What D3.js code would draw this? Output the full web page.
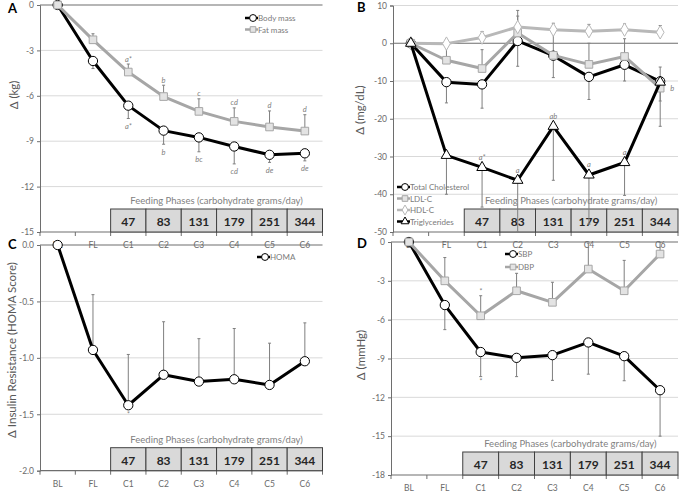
<!DOCTYPE html>
<html>
<head>
<meta charset="utf-8">
<script src="https://cdn.jsdelivr.net/npm/d3@7"></script>
<style>
  body { margin: 0; background: #fff; }
  text { font-family: Lato, "Open Sans", sans-serif; }
</style>
</head>
<body>
<script>
var width = 689;
var height = 497;

var categories = ["BL", "FL", "C1", "C2", "C3", "C4", "C5", "C6"];
var feedingPhases = ["C1", "C2", "C3", "C4", "C5", "C6"];
var carbGrams = [47, 83, 131, 179, 251, 344];

// panel A - kg
var bodyMass    = [0, -3.7, -6.65, -8.3, -8.75, -9.35, -9.9, -9.8];
var bodyMassErr = [0, 0.5, 0.85, 0.9, 0.95, 1.15, 0.5, 0.5];
var bodyMassSig = ["", "", "a*", "b", "bc", "cd", "de", "de"];
var fatMass     = [0, -2.3, -4.43, -6.05, -7.03, -7.69, -8.06, -8.33];
var fatMassErr  = [0, 0.4, 0.53, 0.75, 0.83, 0.89, 1.06, 1.08];
var fatMassSig  = ["", "", "a*", "b", "c", "cd", "d", "d"];

// panel B - mg/dL
var totalChol    = [0, -10.3, -10.9, 0.6, -3.3, -8.9, -5.7, -10.1];
var totalCholErr = [0, 5.5, 6.3, 6.7, 5.8, 6.0, 4.3, 11.9];
var ldl          = [0, -4.5, -6.7, 2.7, -3.2, -5.6, -3.5, -11.9];
var ldlErr       = [0, 4.0, 5.0, 4.5, 6.0, 5.6, 4.7, 5.6];
var ldlSig       = ["", "", "", "", "", "", "", "b"];
var hdl          = [0, -0.1, 1.5, 4.3, 3.6, 3.2, 3.6, 2.9];
var hdlErr       = [0, 1.0, 1.6, 4.4, 1.7, 1.8, 1.5, 1.8];
var tg           = [0, -29.7, -32.9, -36.3, -22, -34.9, -31.6, -10.3];
var tgErr        = [0, 10.3, 10.5, 13.7, 14.3, 13, 8.7, 5];
var tgSig        = ["", "", "a*", "a", "ab", "a", "a", ""];

// panel C - HOMA
var homa    = [0, -0.93, -1.42, -1.15, -1.21, -1.19, -1.24, -1.03];
var homaErr = [0, 0.49, 0.45, 0.47, 0.38, 0.45, 0.37, 0.34];
var homaSig = ["", "", "*", "", "", "", "", ""];

// panel D - mmHg
var sbp    = [0, -4.87, -8.5, -8.95, -8.74, -7.76, -8.82, -11.45];
var sbpErr = [0, 1.9, 1.9, 1.45, 1.95, 2.45, 1.9, 3.55];
var sbpSig = ["", "", "*", "", "", "", "", ""];
var dbp    = [0, -3.0, -5.7, -3.77, -4.66, -2.09, -3.77, -0.93];
var dbpErr = [0, 1.8, 1.55, 1.35, 1.55, 2.0, 2.35, 0.9];
var dbpSig = ["", "", "*", "", "", "", "", ""];

var svg = d3.select("body").append("svg")
    .attr("width", width).attr("height", height);

var black = {line: "#000", fill: "#fff", stroke: "#000"};
var gray = {line: "#a6a6a6", fill: "#e3e3e3", stroke: "#a6a6a6"};
var lightGray = {line: "#b8b8b8", fill: "#fff", stroke: "#b8b8b8"};

var panels = [
  {
    letter: "A", lx: 8, ly: 13,
    left: 40, right: 322.5, top: 5, bottom: 232,
    domain: [-15, 0], ticks: [0, -3, -6, -9, -12, -15], fmt: function(d) { return String(d); },
    title: "\u0394 (kg)", titleX: 13, titleY: 95, labelY: 245,
    legend: {x: 245, y: [18, 29.5]},
    series: [
      {name: "Body mass", values: bodyMass, err: bodyMassErr, dir: -1, sig: bodyMassSig, sigRef: "err", sigDy: 8, col: black, shape: d3.symbolCircle, size: 68},
      {name: "Fat mass", values: fatMass, err: fatMassErr, dir: 1, sig: fatMassSig, sigRef: "err", sigDy: -5, col: gray, shape: d3.symbolSquare, size: 58}
    ]
  },
  {
    letter: "B", lx: 357, ly: 12,
    left: 393, right: 678, top: 5.5, bottom: 232,
    domain: [-50, 10], ticks: [10, 0, -10, -20, -30, -40, -50], fmt: function(d) { return String(d); },
    title: "\u0394 (mg/dL)", titleX: 359, titleY: 110, labelY: 245,
    legend: {x: 397, y: [187, 198.5, 210, 221.5]},
    series: [
      {name: "Total Cholesterol", values: totalChol, err: totalCholErr, dir: -1, col: black, shape: d3.symbolCircle, size: 68},
      {name: "LDL-C", values: ldl, err: ldlErr, dir: 1, sig: ldlSig, sigRef: "point", sigDx: 12, sigDy: 0, col: gray, shape: d3.symbolSquare, size: 58},
      {name: "HDL-C", values: hdl, err: hdlErr, dir: 1, col: lightGray, shape: d3.symbolDiamond, size: 52},
      {name: "Triglycerides", values: tg, err: tgErr, dir: -1, sig: tgSig, sigRef: "point", sigDy: -10, col: black, shape: d3.symbolTriangle, size: 48}
    ]
  },
  {
    letter: "C", lx: 8, ly: 249,
    left: 40, right: 322.5, top: 245, bottom: 470.7,
    domain: [-2, 0], ticks: [0, -0.5, -1, -1.5, -2], fmt: function(d) { return d.toFixed(1); },
    title: "\u0394 Insulin Resistance (HOMA Score)", titleX: 11, titleY: 350, labelY: 484,
    legend: {x: 257, y: [257]},
    series: [
      {name: "HOMA", values: homa, err: homaErr, dir: 1, sig: homaSig, sigRef: "point", sigDy: 9, col: black, shape: d3.symbolCircle, size: 68}
    ]
  },
  {
    letter: "D", lx: 357, ly: 248,
    left: 391, right: 678, top: 242, bottom: 475,
    domain: [-18, 0], ticks: [0, -3, -6, -9, -12, -15, -18], fmt: function(d) { return String(d); },
    title: "\u0394 (mmHg)", titleX: 360, titleY: 355, labelY: 488,
    legend: {x: 505, y: [254, 267]},
    series: [
      {name: "SBP", values: sbp, err: sbpErr, dir: -1, sig: sbpSig, sigRef: "err", sigDy: 5, col: black, shape: d3.symbolCircle, size: 68},
      {name: "DBP", values: dbp, err: dbpErr, dir: 1, sig: dbpSig, sigRef: "err", sigDy: -4, col: gray, shape: d3.symbolSquare, size: 58}
    ]
  }
];

panels.forEach(drawPanel);

function drawPanel(p) {
  var g = svg.append("g");
  var x = d3.scaleBand().domain(categories).range([p.left, p.right]);
  var y = d3.scaleLinear().domain(p.domain).range([p.bottom, p.top]);
  var cx = function(c) { return x(c) + x.bandwidth() / 2; };

  // gridlines
  g.selectAll(".grid")
    .data(p.ticks.filter(function(t) { return t != 0 && t != p.domain[0]; }))
    .enter().append("line")
    .attr("x1", p.left).attr("x2", p.right)
    .attr("y1", function(d) { return y(d); })
    .attr("y2", function(d) { return y(d); })
    .attr("stroke", "#d9d9d9");

  // zero line + bottom line
  [0, p.domain[0]].forEach(function(v) {
    g.append("line")
      .attr("x1", p.left).attr("x2", p.right)
      .attr("y1", y(v)).attr("y2", y(v))
      .attr("stroke", "#6e6e6e").attr("stroke-width", 1.2);
  });

  // ticks between categories
  var bounds = categories.map(function(c) { return x(c); }).concat([p.right]);
  g.selectAll(".xt").data(bounds).enter().append("line")
    .attr("x1", function(d) { return d; }).attr("x2", function(d) { return d; })
    .attr("y1", p.bottom).attr("y2", p.bottom + 4)
    .attr("stroke", "#6e6e6e");

  g.selectAll(".xl").data(categories).enter().append("text")
    .attr("x", cx).attr("y", p.labelY)
    .attr("text-anchor", "middle").attr("dominant-baseline", "central")
    .attr("font-size", 8.5).attr("fill", "#6b6b6b")
    .text(function(d) { return d; });

  // y axis
  var yAxis = d3.axisLeft(y).tickValues(p.ticks).tickSize(3).tickPadding(3).tickFormat(p.fmt);
  var ya = g.append("g").attr("transform", "translate(" + p.left + ",0)").call(yAxis);
  ya.select(".domain").attr("stroke", "#6e6e6e");
  ya.selectAll(".tick line").attr("stroke", "#6e6e6e");
  ya.selectAll(".tick text").attr("font-size", 8.5).attr("fill", "#6b6b6b")
    .style("font-family", "Lato, sans-serif");

  g.append("text")
    .attr("transform", "translate(" + p.titleX + "," + p.titleY + ") rotate(-90)")
    .attr("text-anchor", "middle").attr("dominant-baseline", "central")
    .attr("font-size", 11.5).attr("fill", "#595959")
    .text(p.title);

  g.append("text")
    .attr("x", p.lx).attr("y", p.ly)
    .attr("font-size", 13).attr("font-weight", "bold").attr("fill", "#000")
    .text(p.letter);

  // feeding phase table
  var th = 23;
  var ty = p.bottom - th;
  g.selectAll(".cell").data(feedingPhases).enter().append("rect")
    .attr("x", function(d) { return x(d); }).attr("y", ty)
    .attr("width", x.bandwidth()).attr("height", th)
    .attr("fill", "#d9d9d9").attr("stroke", "#404040").attr("stroke-width", 1);
  g.selectAll(".carb").data(carbGrams).enter().append("text")
    .attr("x", function(d, i) { return cx(feedingPhases[i]); })
    .attr("y", ty + th / 2 + 1)
    .attr("text-anchor", "middle").attr("dominant-baseline", "central")
    .attr("font-size", 12).attr("font-weight", "bold").attr("fill", "#262626")
    .text(function(d) { return d; });
  g.append("text")
    .attr("x", (x("C1") + p.right) / 2).attr("y", ty - 8.5)
    .attr("text-anchor", "middle").attr("dominant-baseline", "central")
    .attr("font-size", 9.5).attr("fill", "#7f7f7f")
    .text("Feeding Phases (carbohydrate grams/day)");

  function points(s) {
    return categories.map(function(c, i) {
      return {c: c, v: s.values[i], e: s.err[i], sig: s.sig ? s.sig[i] : ""};
    });
  }

  // error bars
  p.series.forEach(function(s) {
    var pts = points(s).filter(function(d) { return d.e > 0; });
    var eb = g.append("g").attr("stroke", "#7f7f7f").attr("stroke-width", 1);
    eb.selectAll(".bar").data(pts).enter().append("line")
      .attr("x1", function(d) { return cx(d.c); }).attr("x2", function(d) { return cx(d.c); })
      .attr("y1", function(d) { return y(d.v); })
      .attr("y2", function(d) { return y(d.v + s.dir * d.e); });
    eb.selectAll(".cap").data(pts).enter().append("line")
      .attr("x1", function(d) { return cx(d.c) - 1.5; }).attr("x2", function(d) { return cx(d.c) + 1.5; })
      .attr("y1", function(d) { return y(d.v + s.dir * d.e); })
      .attr("y2", function(d) { return y(d.v + s.dir * d.e); });
  });

  // lines + markers
  var line = d3.line().x(function(d) { return cx(d.c); }).y(function(d) { return y(d.v); });
  p.series.forEach(function(s) {
    var pts = points(s);
    g.append("path").datum(pts).attr("d", line)
      .attr("fill", "none").attr("stroke", s.col.line).attr("stroke-width", 3)
      .attr("stroke-linejoin", "round");
    g.selectAll(null).data(pts).enter().append("path")
      .attr("d", d3.symbol().type(s.shape).size(s.size))
      .attr("transform", function(d) { return "translate(" + cx(d.c) + "," + y(d.v) + ")"; })
      .attr("fill", s.col.fill).attr("stroke", s.col.stroke).attr("stroke-width", 1);

    if (s.sig) {
      g.selectAll(null).data(pts.filter(function(d) { return d.sig; })).enter().append("text")
        .attr("x", function(d) { return cx(d.c) + (s.sigDx || 0); })
        .attr("y", function(d) {
          var base = s.sigRef == "err" ? d.v + s.dir * d.e : d.v;
          return y(base) + s.sigDy;
        })
        .attr("text-anchor", "middle").attr("dominant-baseline", "central")
        .attr("font-size", 7.5).attr("font-style", "italic").attr("fill", "#808080")
        .text(function(d) { return d.sig; });
    }
  });

  // legend
  p.series.forEach(function(s, i) {
    var ly = p.legend.y[i];
    var lx = p.legend.x;
    g.append("line").attr("x1", lx).attr("x2", lx + 13).attr("y1", ly).attr("y2", ly)
      .attr("stroke", s.col.line).attr("stroke-width", 2.5);
    g.append("path").attr("d", d3.symbol().type(s.shape).size(s.size * 0.55))
      .attr("transform", "translate(" + (lx + 8) + "," + ly + ")")
      .attr("fill", s.col.fill).attr("stroke", s.col.stroke);
    g.append("text").attr("x", lx + 13).attr("y", ly)
      .attr("dominant-baseline", "central")
      .attr("font-size", 8).attr("fill", "#7a7a7a")
      .text(s.name);
  });
}
</script>
</body>
</html>
